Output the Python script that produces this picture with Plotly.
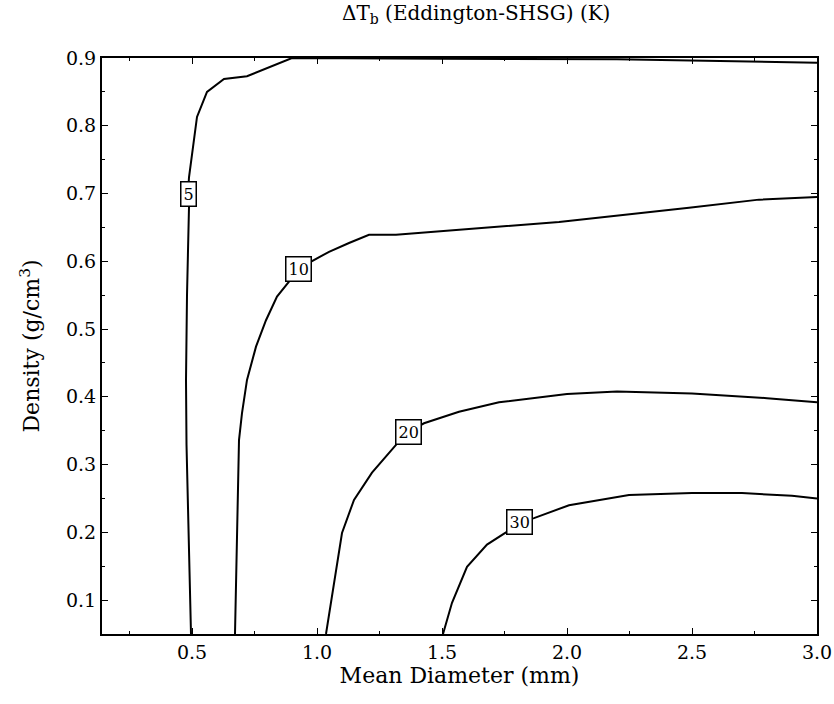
import plotly.graph_objects as go

# Contour lines of Delta Tb (K)
c5_x = [0.496, 0.484, 0.478, 0.476, 0.480, 0.488, 0.484, 0.488, 0.520, 0.560, 0.628, 0.720, 0.876, 0.900, 1.5, 2.2, 3.0]
c5_y = [0.050, 0.229, 0.330, 0.425, 0.550, 0.680, 0.700, 0.724, 0.813, 0.850, 0.869, 0.873, 0.897, 0.900, 0.899, 0.898, 0.893]

c10_x = [0.672, 0.680, 0.688, 0.700, 0.720, 0.756, 0.796, 0.840, 0.888, 0.924, 0.988, 1.048, 1.128, 1.208, 1.316, 1.448, 1.968, 2.488, 2.768, 3.000]
c10_y = [0.050, 0.200, 0.336, 0.376, 0.425, 0.474, 0.513, 0.548, 0.570, 0.589, 0.602, 0.614, 0.627, 0.639, 0.639, 0.643, 0.658, 0.679, 0.691, 0.695]

c20_x = [1.036, 1.100, 1.148, 1.220, 1.316, 1.364, 1.428, 1.568, 1.728, 2.000, 2.200, 2.500, 2.800, 3.000]
c20_y = [0.050, 0.199, 0.248, 0.288, 0.329, 0.348, 0.361, 0.378, 0.392, 0.404, 0.408, 0.405, 0.398, 0.392]

c30_x = [1.504, 1.540, 1.600, 1.680, 1.756, 1.808, 1.868, 2.008, 2.248, 2.500, 2.700, 2.900, 3.000]
c30_y = [0.050, 0.096, 0.149, 0.182, 0.200, 0.215, 0.221, 0.240, 0.255, 0.258, 0.258, 0.254, 0.250]

levels = ["5", "10", "20", "30"]
label_x = [0.484, 0.924, 1.364, 1.808]
label_y = [0.700, 0.589, 0.348, 0.215]

x_ticks = [0.5, 1.0, 1.5, 2.0, 2.5, 3.0]
y_ticks = [0.1, 0.2, 0.3, 0.4, 0.5, 0.6, 0.7, 0.8, 0.9]

FONT = "DejaVu Serif"

fig = go.Figure()
for xs, ys in [(c5_x, c5_y), (c10_x, c10_y), (c20_x, c20_y), (c30_x, c30_y)]:
    fig.add_trace(go.Scatter(x=xs, y=ys, mode="lines",
                             line=dict(color="black", width=2),
                             showlegend=False, hoverinfo="skip"))

for lx, ly, lv in zip(label_x, label_y, levels):
    fig.add_annotation(x=lx, y=ly, text=lv, showarrow=False,
                       font=dict(family=FONT, size=16, color="black"),
                       bgcolor="white", bordercolor="black", borderwidth=1.5,
                       borderpad=2)

fig.update_layout(
    width=834, height=704,
    margin=dict(l=102, r=17, t=58, b=70),
    paper_bgcolor="white", plot_bgcolor="white",
    font=dict(family=FONT, size=19, color="black"),
    title=dict(text="ΔT<sub>b</sub> (Eddington-SHSG) (K)",
               x=0.571, xanchor="center", y=0.992, yanchor="top",
               font=dict(family=FONT, size=20)),
)
fig.update_xaxes(range=[0.14, 3.0], tickvals=x_ticks,
                 ticktext=[f"{v:.1f}" for v in x_ticks],
                 ticks="inside", ticklen=6, tickwidth=1.2, tickcolor="black",
                 minor=dict(ticks="inside", ticklen=3, dtick=0.25, tick0=0.0, tickcolor="black"),
                 showline=True, linecolor="black", linewidth=2, mirror="allticks",
                 showgrid=False, zeroline=False, automargin=False,
                 title=dict(text="Mean Diameter (mm)", standoff=2,
                            font=dict(family=FONT, size=22)),
                 tickfont=dict(family=FONT, size=19))
fig.update_yaxes(range=[0.05, 0.9], tickvals=y_ticks,
                 ticktext=[f"{v:.1f}" for v in y_ticks],
                 ticks="inside", ticklen=6, tickwidth=1.2, tickcolor="black",
                 minor=dict(ticks="inside", ticklen=3, dtick=0.05, tick0=0.0, tickcolor="black"),
                 showline=True, linecolor="black", linewidth=2, mirror="allticks",
                 showgrid=False, zeroline=False, automargin=False,
                 title=dict(text="Density (g/cm<sup>3</sup>)", standoff=20,
                            font=dict(family=FONT, size=22)),
                 tickfont=dict(family=FONT, size=19))

fig.write_html("out.html", config={"displayModeBar": False},
               post_script="document.body.style.margin='0';")
